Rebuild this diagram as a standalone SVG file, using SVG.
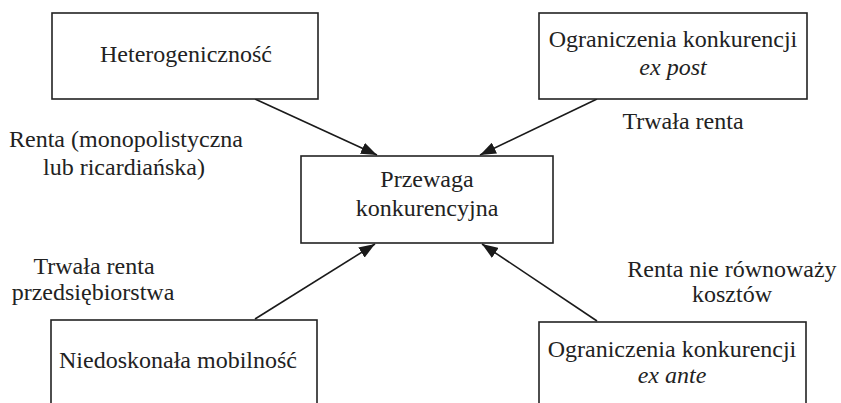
<svg xmlns="http://www.w3.org/2000/svg" width="841" height="403" viewBox="0 0 841 403">
<style>
.box{fill:#fff;stroke:#222;stroke-width:1.6}
.t{font-family:'Liberation Serif','DejaVu Serif',serif;font-size:24px;fill:#222;text-anchor:middle}
.i{font-style:italic}
.c{stroke:#1a1a1a;stroke-width:1.6;fill:none;marker-end:url(#ah)}
</style>
<defs>
<marker id="ah" viewBox="0 0 16 12" refX="16" refY="6" markerWidth="16" markerHeight="12" markerUnits="userSpaceOnUse" orient="auto">
<path d="M0,0 L16,6 L0,12 z" fill="#1a1a1a"/>
</marker>
</defs>
<rect width="841" height="403" fill="#fff"/>
<g id="connectors">
<line class="c" x1="255" y1="99" x2="377" y2="155"/>
<line class="c" x1="597" y1="99" x2="480" y2="155"/>
<line class="c" x1="255" y1="319" x2="375" y2="244"/>
<line class="c" x1="597" y1="321" x2="482" y2="244"/>
</g>
<g id="n-heterogenicznosc">
<rect class="box" x="52" y="13" width="266" height="86"/>
<text class="t" x="186" y="62">Heterogeniczność</text>
</g>
<g id="n-expost">
<rect class="box" x="539" y="13" width="268" height="86"/>
<text class="t" x="673" y="47">Ograniczenia konkurencji</text>
<text class="t i" x="673" y="75">ex post</text>
</g>
<g id="n-przewaga">
<rect class="box" x="301" y="156" width="252" height="87"/>
<text class="t" x="427" y="187">Przewaga</text>
<text class="t" x="427" y="216">konkurencyjna</text>
</g>
<g id="n-mobilnosc">
<rect class="box" x="51" y="320" width="266" height="100"/>
<text class="t" x="178" y="368" font-family="Liberation Serif">Niedoskonała mobilność</text>
</g>
<g id="n-exante">
<rect class="box" x="539" y="322" width="267" height="100"/>
<text class="t" x="672" y="357">Ograniczenia konkurencji</text>
<text class="t i" x="672" y="383">ex ante</text>
</g>
<g id="labels">
<text class="t" x="126" y="147">Renta (monopolistyczna</text>
<text class="t" x="124" y="175">lub ricardiańska)</text>
<text class="t" x="683" y="129">Trwała renta</text>
<text class="t" x="94" y="274">Trwała renta</text>
<text class="t" x="93" y="300">przedsiębiorstwa</text>
<text class="t" x="732" y="277">Renta nie równoważy</text>
<text class="t" x="732" y="302">kosztów</text>
</g>
</svg>
